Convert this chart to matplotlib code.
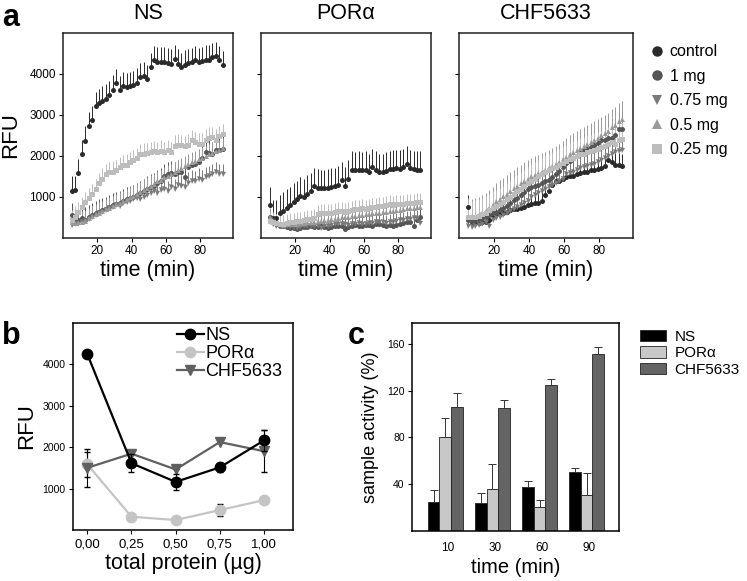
import numpy as np
import matplotlib
matplotlib.use("Agg")
import matplotlib.pyplot as plt
from matplotlib.lines import Line2D
from matplotlib.patches import Patch

plt.rcParams['font.family'] = ['Liberation Sans', 'DejaVu Sans']

# ---- panel a: kinetics (RFU vs time) ----
time_min = list(range(5, 95, 2))
doses = ['control', '1 mg', '0.75 mg', '0.5 mg', '0.25 mg']

ns_control = [1150, 1170, 1580, 2050, 2370, 2730, 2870, 3220, 3290, 3350, 3400, 3480, 3620, 3770, 3600,
              3700, 3680, 3700, 3720, 3790, 3930, 3950, 3880, 4170, 4330, 4300, 4300, 4300, 4280, 4250,
              4360, 4250, 4170, 4230, 4270, 4290, 4330, 4290, 4310, 4350, 4350, 4410, 4430, 4330, 4220]
ns_1mg = [550, 420, 430, 480, 450, 500, 560, 600, 640, 680, 700, 760, 800, 820, 850,
          900, 950, 980, 1000, 1050, 1100, 1150, 1200, 1250, 1280, 1350, 1400, 1500, 1550, 1580,
          1550, 1600, 1620, 1480, 1720, 1780, 1800, 1850, 1950, 2100, 2080, 2050, 2150, 2150, 2180]
ns_075mg = [320, 330, 350, 380, 420, 460, 520, 560, 600, 640, 680, 720, 760, 800, 780,
            850, 880, 900, 950, 980, 950, 1000, 1050, 1100, 1150, 1100, 1180, 1200, 1150, 1250,
            1200, 1300, 1280, 1250, 1350, 1400, 1380, 1450, 1420, 1480, 1500, 1550, 1600, 1550, 1560]
ns_05mg = [380, 360, 380, 400, 420, 480, 540, 580, 620, 660, 700, 740, 780, 820, 860,
           900, 950, 1000, 1030, 1080, 1120, 1180, 1230, 1280, 1320, 1380, 1420, 1480, 1520, 1560,
           1600, 1650, 1700, 1750, 1800, 1850, 1880, 1920, 1960, 2000, 2050, 2080, 2120, 2150, 2200]
ns_025mg = [430, 520, 630, 760, 880, 980, 1070, 1200, 1330, 1450, 1560, 1610, 1620, 1650, 1720,
            1770, 1790, 1850, 1890, 1950, 2050, 2060, 2070, 2100, 2110, 2100, 2130, 2090, 2150, 2100,
            2250, 2280, 2260, 2240, 2280, 2380, 2340, 2300, 2300, 2400, 2450, 2460, 2400, 2480, 2540]
ns_err = [350, 300, 250, 250, 250]

por_control = [800, 480, 480, 600, 660, 740, 800, 880, 950, 1030, 1000, 1080, 1140, 1260, 1230,
               1210, 1220, 1230, 1250, 1260, 1300, 1410, 1270, 1440, 1660, 1650, 1660, 1650, 1660, 1600,
               1720, 1660, 1600, 1600, 1640, 1680, 1690, 1700, 1690, 1720, 1800, 1700, 1680, 1670, 1660]
por_1mg = [500, 450, 350, 300, 280, 260, 250, 250, 220, 240, 260, 270, 280, 260, 270,
           280, 260, 250, 270, 280, 300, 280, 220, 260, 300, 320, 300, 280, 310, 320,
           300, 330, 340, 320, 300, 310, 300, 320, 340, 360, 380, 400, 300, 450, 500]
por_075mg = [400, 330, 300, 300, 290, 280, 270, 260, 250, 260, 280, 300, 290, 280, 300,
             250, 280, 300, 320, 330, 340, 350, 330, 320, 340, 350, 360, 340, 350, 360,
             370, 380, 390, 380, 370, 390, 400, 420, 430, 440, 460, 470, 480, 490, 360]
por_05mg = [500, 420, 360, 330, 320, 330, 340, 340, 350, 360, 370, 380, 390, 400, 410,
            420, 430, 450, 460, 470, 480, 500, 510, 520, 530, 540, 550, 560, 580, 590,
            600, 610, 620, 630, 640, 650, 660, 680, 690, 700, 720, 730, 740, 750, 760]
por_025mg = [420, 380, 360, 350, 340, 360, 380, 400, 420, 420, 440, 460, 470, 480, 580,
             600, 600, 620, 620, 640, 650, 650, 640, 660, 680, 700, 700, 720, 700, 740,
             750, 760, 780, 780, 800, 820, 800, 820, 820, 840, 850, 860, 860, 870, 880]
por_err = [450, 200, 200, 220, 220]

chf_control = [760, 380, 370, 360, 380, 400, 450, 550, 580, 600, 620, 640, 680, 700, 700,
               720, 760, 800, 820, 850, 860, 900, 1050, 1150, 1300, 1380, 1400, 1450, 1480, 1500,
               1520, 1550, 1580, 1600, 1620, 1650, 1660, 1680, 1700, 1750, 1900, 1850, 1780, 1770, 1760]
chf_1mg = [450, 420, 440, 460, 480, 520, 560, 600, 640, 680, 720, 780, 850, 920, 980,
           1050, 1120, 1200, 1250, 1280, 1300, 1340, 1380, 1420, 1480, 1560, 1640, 1720, 1820, 1880,
           1950, 2000, 2080, 2140, 2180, 2220, 2280, 2320, 2380, 2400, 2450, 2450, 2500, 2650, 2660]
chf_075mg = [280, 270, 300, 320, 340, 380, 300, 440, 480, 520, 560, 600, 650, 700, 750,
             800, 850, 900, 1000, 1050, 1100, 1150, 1200, 1250, 1300, 1350, 1400, 1450, 1550, 1580,
             1600, 1650, 1700, 1720, 1750, 1780, 1800, 1850, 1900, 1950, 2000, 2050, 2100, 2130, 2140]
chf_05mg = [520, 500, 520, 560, 600, 650, 720, 800, 900, 960, 1020, 1080, 1150, 1220, 1280,
            1330, 1400, 1450, 1500, 1540, 1580, 1620, 1650, 1700, 1750, 1800, 1850, 1920, 1980, 2050,
            2100, 2150, 2200, 2250, 2300, 2350, 2400, 2450, 2500, 2550, 2600, 2700, 2750, 2850, 2900]
chf_025mg = [520, 500, 520, 540, 580, 620, 680, 740, 780, 830, 880, 940, 1000, 1080, 1140,
             1200, 1260, 1340, 1400, 1450, 1500, 1560, 1620, 1650, 1700, 1740, 1780, 1840, 1880, 1920,
             1960, 2000, 2040, 2060, 2100, 2120, 2150, 2180, 2210, 2240, 2300, 2350, 2300, 2400, 2420]
chf_err = [300, 400, 350, 450, 400]

# ---- panel b: RFU vs total protein ----
protein = [0.0, 0.25, 0.5, 0.75, 1.0]
protein_labels = ['0,00', '0,25', '0,50', '0,75', '1,00']
b_ns = [4240, 1610, 1160, 1510, 2160]
b_ns_err = [0, 220, 200, 100, 260]
b_por = [1580, 320, 240, 480, 720]
b_por_err = [300, 0, 0, 150, 0]
b_chf = [1500, 1840, 1460, 2120, 1900]
b_chf_err = [460, 0, 0, 0, 500]

# ---- panel c: sample activity ----
c_times = ['10', '30', '60', '90']
c_ns = [25, 24, 37.5, 50]
c_ns_err = [10, 8, 5.5, 3.5]
c_por = [80.5, 36, 20, 31]
c_por_err = [16, 21, 6, 18.5]
c_chf = [106, 105, 125, 151.5]
c_chf_err = [12, 7, 5, 6.5]

dose_colors = ['#2a2a2a', '#555555', '#7a7a7a', '#9a9a9a', '#bdbdbd']
dose_markers = ['o', 'o', 'v', '^', 's']

fig = plt.figure(figsize=(7.47, 5.81), dpi=100)

top_axes = [
    fig.add_axes([0.0843, 0.5904, 0.2276, 0.3528]),
    fig.add_axes([0.3494, 0.5904, 0.2272, 0.3528]),
    fig.add_axes([0.6149, 0.5904, 0.2321, 0.3528]),
]
panels = [
    ('NS', [ns_control, ns_1mg, ns_075mg, ns_05mg, ns_025mg], ns_err),
    ('POR\u03b1', [por_control, por_1mg, por_075mg, por_05mg, por_025mg], por_err),
    ('CHF5633', [chf_control, chf_1mg, chf_075mg, chf_05mg, chf_025mg], chf_err),
]

t = np.array(time_min)
for i, (ax, (title, series, errs)) in enumerate(zip(top_axes, panels)):
    for vals, err, col, mk in zip(series, errs, dose_colors, dose_markers):
        v = np.array(vals)
        ax.errorbar(t, v, yerr=[np.zeros_like(v), np.full_like(v, err)], fmt=mk, ms=3.6,
                    color=col, ecolor=col, elinewidth=0.7, capsize=0, mew=0)
    ax.set_xlim(0, 99)
    ax.set_ylim(0, 5000)
    ax.set_xticks([20, 40, 60, 80])
    ax.set_yticks([1000, 2000, 3000, 4000])
    ax.tick_params(direction='out', length=3, width=0.8, labelsize=8.5, pad=2)
    if i > 0:
        ax.set_yticklabels([])
    ax.set_title(title, fontsize=15.5, pad=10)
    ax.set_xlabel('time (min)', fontsize=15.5, labelpad=2)
    for s in ax.spines.values():
        s.set_linewidth(1.1)
        s.set_color('#222222')
top_axes[0].set_ylabel('RFU', fontsize=16, labelpad=6)

handles = [Line2D([], [], ls='none', marker=mk, ms=7.5, color=c, mew=0)
           for mk, c in zip(dose_markers, dose_colors)]
fig.legend(handles, doses, loc='upper left', bbox_to_anchor=(0.858, 0.935), frameon=False,
           fontsize=11.5, handletextpad=0.2, labelspacing=0.6, handlelength=1.2, borderaxespad=0)

# panel b
axb = fig.add_axes([0.0973, 0.0878, 0.2953, 0.3568])
b_styles = [('NS', b_ns, b_ns_err, 'black', 'o', 3),
            ('POR\u03b1', b_por, b_por_err, '#c4c4c4', 'o', 2),
            ('CHF5633', b_chf, b_chf_err, '#606060', 'v', 2)]
b_handles = []
for lab, vals, err, col, mk, z in b_styles:
    axb.errorbar(protein, vals, yerr=err, color=col, marker=mk, ms=7.5, lw=1.6,
                 ecolor='black', elinewidth=0.8, capsize=2.5, zorder=z)
    b_handles.append(Line2D([], [], color=col, marker=mk, ms=7.5, lw=1.6))
axb.set_xlim(-0.083, 1.166)
axb.set_ylim(0, 5000)
axb.set_xticks(protein)
axb.set_xticklabels(protein_labels)
axb.set_yticks([1000, 2000, 3000, 4000])
axb.tick_params(axis='x', direction='out', length=3, labelsize=9.5, pad=3)
axb.tick_params(axis='y', direction='out', length=3, labelsize=7.5, pad=2)
axb.set_xlabel('total protein (\u00b5g)', fontsize=15.5, labelpad=2)
axb.set_ylabel('RFU', fontsize=16, labelpad=4)
axb.legend(b_handles, ['NS', 'POR\u03b1', 'CHF5633'], loc='upper right', bbox_to_anchor=(1.0, 1.03),
           frameon=False, fontsize=13, handlelength=1.5, handletextpad=0.1, labelspacing=0.05,
           borderaxespad=0.2)
for s in axb.spines.values():
    s.set_linewidth(1.1)

# panel c
axc = fig.add_axes([0.5511, 0.0866, 0.2779, 0.3569])
xc = np.arange(len(c_times))
w = 0.245
bar_kw = dict(edgecolor='#222222', linewidth=0.6, capsize=3,
              error_kw=dict(elinewidth=0.7, capthick=0.7, ecolor='#333333'))
axc.bar(xc - w, c_ns, w, yerr=[np.zeros(4), c_ns_err], color='black', **bar_kw)
axc.bar(xc, c_por, w, yerr=[np.zeros(4), c_por_err], color='#c8c8c8', **bar_kw)
axc.bar(xc + w, c_chf, w, yerr=[np.zeros(4), c_chf_err], color='#646464', **bar_kw)
axc.set_xlim(-0.71, 3.69)
axc.set_ylim(0, 178)
axc.set_xticks(xc + 0.06)
axc.set_xticklabels(c_times)
axc.set_yticks([40, 80, 120, 160])
axc.tick_params(axis='x', length=0, labelsize=8.5, pad=8)
axc.tick_params(axis='y', direction='out', length=3, labelsize=7.5, pad=2)
axc.set_xlabel('time (min)', fontsize=14.5, labelpad=3)
axc.set_ylabel('sample activity (%)', fontsize=13, labelpad=6)
for s in axc.spines.values():
    s.set_linewidth(1.1)
leg_c = [Patch(facecolor=c, edgecolor='#222222', linewidth=0.6) for c in ['black', '#c8c8c8', '#646464']]
fig.legend(leg_c, ['NS', 'POR\u03b1', 'CHF5633'], loc='upper left', bbox_to_anchor=(0.848, 0.443),
           frameon=False, fontsize=11, handlelength=1.7, handleheight=0.8, handletextpad=0.6,
           labelspacing=0.15, borderaxespad=0)

# panel letters
fig.text(0.003, 0.995, 'a', fontsize=22, fontweight='bold', va='top')
fig.text(0.003, 0.448, 'b', fontsize=22, fontweight='bold', va='top')
fig.text(0.465, 0.448, 'c', fontsize=22, fontweight='bold', va='top')

fig.savefig('out.png', dpi=100)
